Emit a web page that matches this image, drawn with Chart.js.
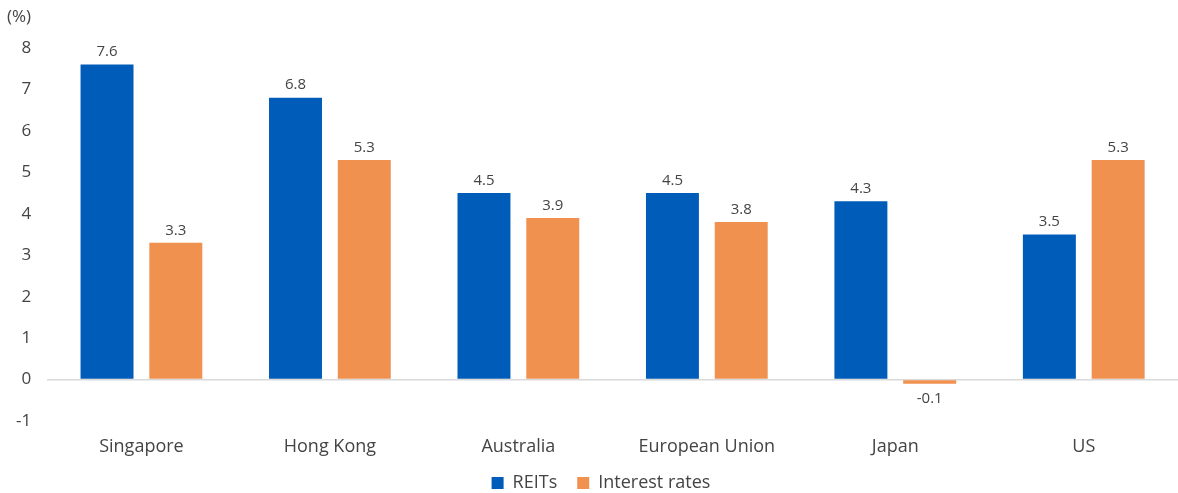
<!DOCTYPE html>
<html>
<head>
<meta charset="utf-8">
<script src="https://cdn.jsdelivr.net/npm/chart.js@4"></script>
<style>
  html, body { margin: 0; padding: 0; background: #fff; }
  #wrap { width: 1178px; height: 493px; }
</style>
</head>
<body>
<div id="wrap"><canvas id="myChart"></canvas></div>
<script>
"use strict";
const countries = ["Singapore", "Hong Kong", "Australia", "European Union", "Japan", "US"];
const reits = [7.6, 6.8, 4.5, 4.5, 4.3, 3.5];
const rates = [3.3, 5.3, 3.9, 3.8, -0.1, 5.3];
const yTicks = [-1, 0, 1, 2, 3, 4, 5, 6, 7, 8];

const FONT = "'Open Sans', 'Noto Sans', sans-serif";
Chart.defaults.font.family = FONT;
Chart.defaults.color = "#444";

// value labels on the bars + "(%)" unit label
const barLabels = {
  id: "barLabels",
  afterLayout(chart) {
    // nudge legend: a bit right of centre and up, like the reference
    const lg = chart.legend;
    if (lg) {
      lg.left += 24;
      lg.top -= 8;
      lg.bottom -= 8;
    }
  },
  afterDatasetsDraw(chart) {
    const { ctx } = chart;
    ctx.save();
    ctx.font = "15px " + FONT;
    ctx.fillStyle = "#444";
    ctx.textAlign = "center";
    chart.data.datasets.forEach((ds, i) => {
      chart.getDatasetMeta(i).data.forEach((bar, j) => {
        const v = ds.data[j];
        if (v >= 0) {
          ctx.textBaseline = "bottom";
          ctx.fillText(v.toFixed(1), bar.x, bar.y - 5);
        } else {
          ctx.textBaseline = "top";
          ctx.fillText(v.toFixed(1), bar.x, bar.y + 8);
        }
      });
    });
    ctx.font = "17px " + FONT;
    ctx.textAlign = "left";
    ctx.textBaseline = "middle";
    ctx.fillText("(%)", 7, 17);
    ctx.restore();
  },
};

const ctx = document.getElementById("myChart");
new Chart(ctx, {
  type: "bar",
  data: {
    labels: countries,
    datasets: [
      { label: "REITs", data: reits, backgroundColor: "#005CB9" },
      { label: "Interest rates", data: rates, backgroundColor: "#F09150" },
    ],
  },
  options: {
    responsive: true,
    maintainAspectRatio: false,
    animation: false,
    layout: { padding: { top: 48, right: 0, left: 0, bottom: -17 } },
    datasets: { bar: { categoryPercentage: 0.73, barPercentage: 0.77 } },
    plugins: {
      legend: {
        position: "bottom",
        labels: { boxWidth: 12, boxHeight: 12, padding: 20, font: { size: 18 }, color: "#444" },
      },
      tooltip: { enabled: false },
    },
    scales: {
      x: {
        border: { display: false },
        grid: { display: false },
        ticks: { font: { size: 18 }, color: "#444", padding: 7 },
        afterFit: (axis) => { axis.height = 41; },
      },
      y: {
        min: -1,
        max: 8,
        afterBuildTicks: (axis) => { axis.ticks = yTicks.map((v) => ({ value: v })); },
        border: { display: false },
        grid: {
          drawTicks: false,
          color: (c) => (c.tick && c.tick.value === 0 ? "#d9d9d9" : "rgba(0,0,0,0)"),
          lineWidth: 1.5,
        },
        ticks: { font: { size: 17 }, color: "#444", padding: 16 },
      },
    },
  },
  plugins: [barLabels],
});
</script>
</body>
</html>
